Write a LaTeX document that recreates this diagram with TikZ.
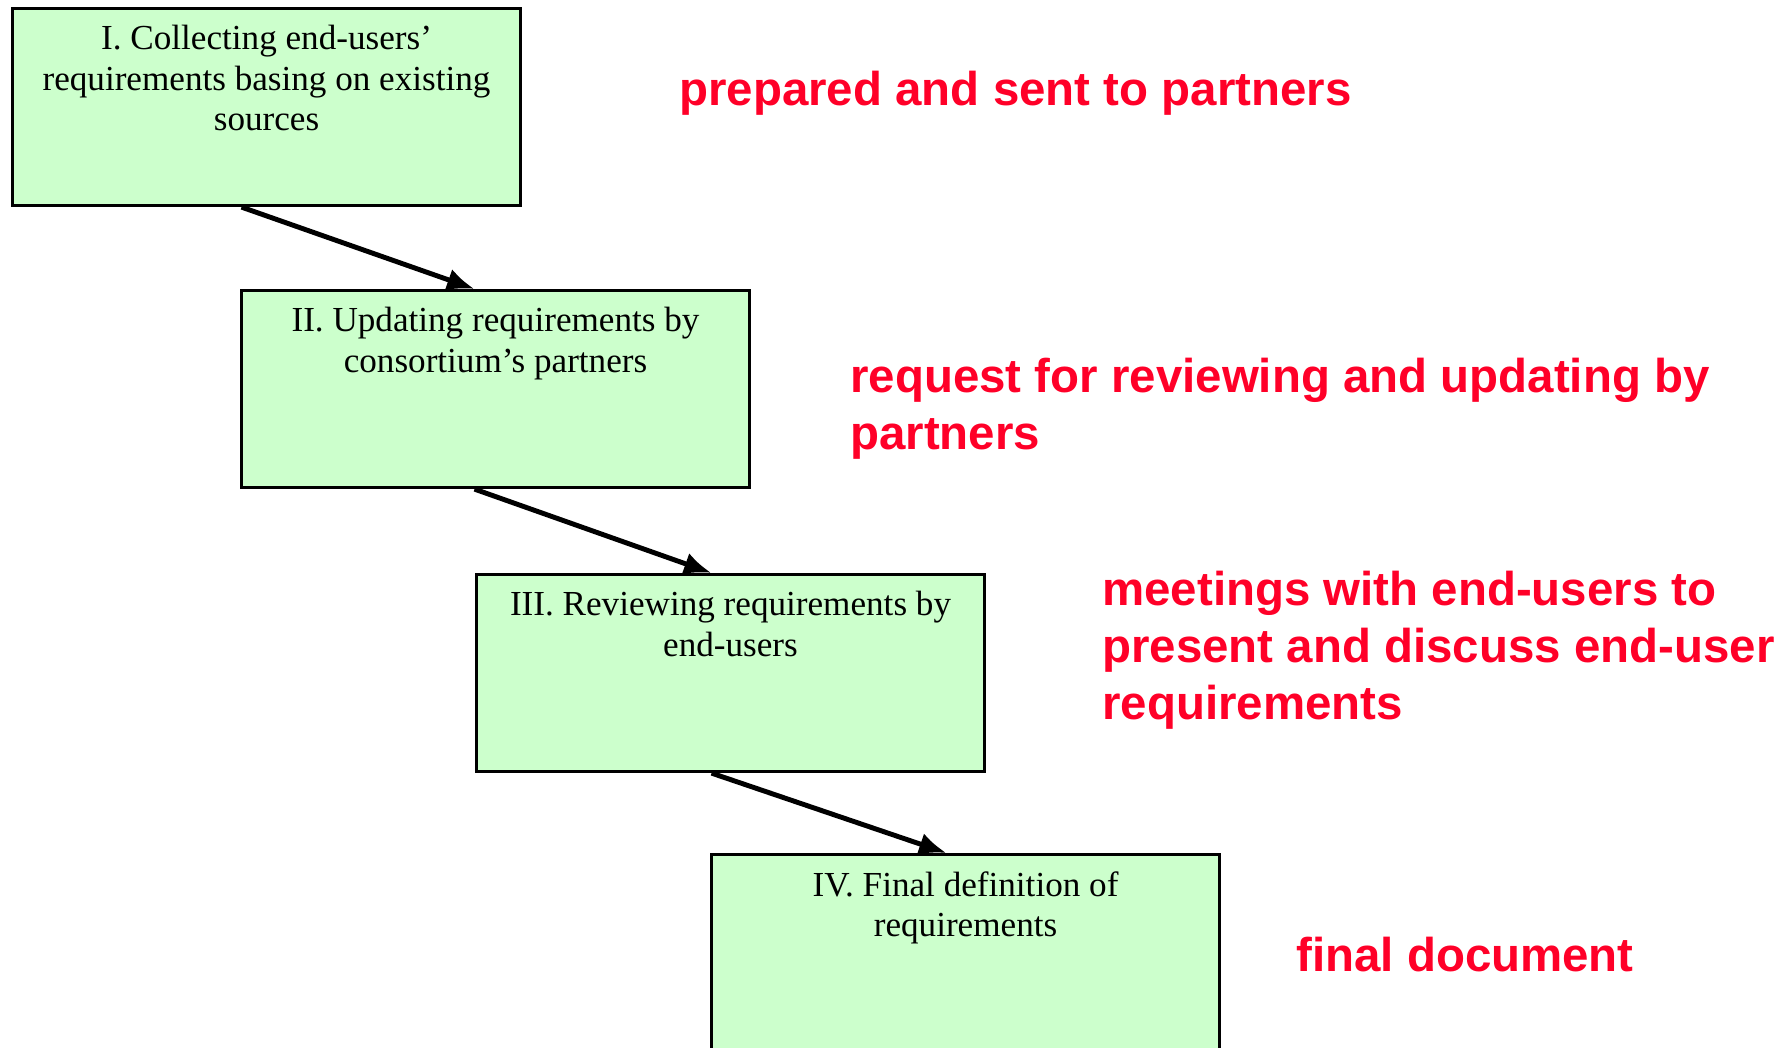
\documentclass[tikz,border=0pt]{standalone}
\usepackage{fontspec}
\setmainfont{Liberation Serif}
\newfontfamily\notefont{Liberation Sans}
\usepackage{xcolor}
\usepackage{tikz}
\usetikzlibrary{arrows.meta, positioning}
\definecolor{stagegreen}{RGB}{204,255,204}
\definecolor{notered}{RGB}{255,0,40}
\newcommand{\stagetext}[1]{\parbox[c][3.26cm][t]{9.6cm}{\centering #1}}

\begin{document}
\begin{tikzpicture}[x=0.02cm, y=-0.02cm,
    stage/.style={draw, line width=1.8pt, fill=stagegreen, anchor=north west,
        minimum width=10.16cm, minimum height=3.94cm, inner sep=0pt,
        font=\fontsize{20}{23}\selectfont},
    note/.style={anchor=west, align=left, text=notered, inner sep=0pt,
        font=\notefont\bfseries\fontsize{27}{32.4}\selectfont},
    flow/.style={-{Latex[length=0.55cm, width=0.45cm]}, line width=2.8pt}]

\useasboundingbox (0,0) rectangle (1789,1048);
\clip (0,0) rectangle (1789,1048);

% ── STAGES ───────────────────────────────────────────────────────
\node[stage] (s1) at (11,7)    {\stagetext{I. Collecting end-users’\\requirements basing on existing\\sources}};
\node[stage] (s2) at (240,289) {\stagetext{II. Updating requirements by\\consortium’s partners}};
\node[stage] (s3) at (475,573) {\stagetext{III. Reviewing requirements by\\end-users}};
\node[stage] (s4) at (710,853) {\stagetext{IV. Final definition of\\requirements}};

% Flow between stages
\draw[flow] ([xshift=-0.5cm]s1.south) -- ([xshift=-0.42cm]s2.north);
\draw[flow] ([xshift=-0.42cm]s2.south) -- ([xshift=-0.38cm]s3.north);
\draw[flow] ([xshift=-0.38cm]s3.south) -- ([xshift=-0.38cm]s4.north);

% ── NOTES ────────────────────────────────────────────────────────
\node[note] (n1) at (679,93)   {prepared and sent to partners};
\node[note] (n2) at (850,409)  {request for reviewing and updating by\\partners};
\node[note] (n3) at (1102,650) {meetings with end-users to\\present and discuss end-user\\requirements};
\node[note] (n4) at (1296,955) {final document};

\end{tikzpicture}
\end{document}
